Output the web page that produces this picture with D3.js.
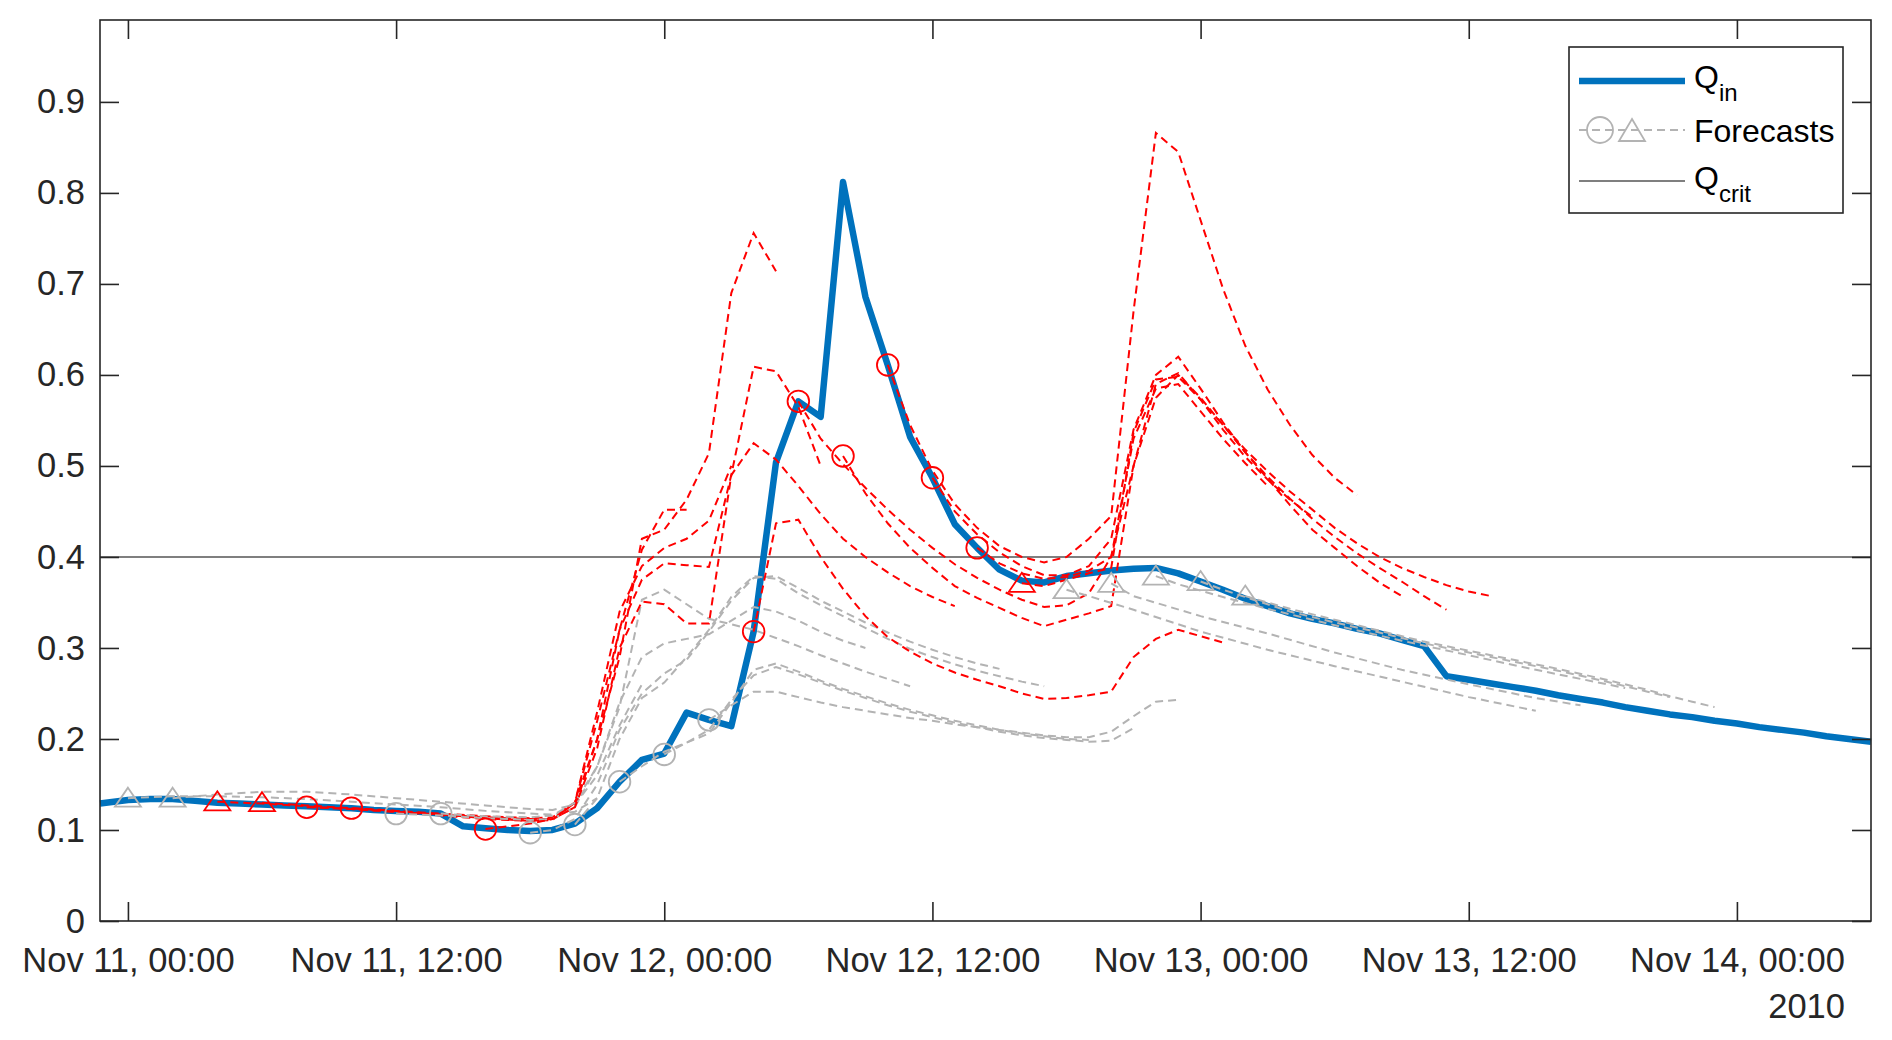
<!DOCTYPE html>
<html>
<head>
<meta charset="utf-8">
<script src="https://cdnjs.cloudflare.com/ajax/libs/d3/7.8.5/d3.min.js"></script>
<style>
body { margin: 0; background: #fff; }
svg { display: block; font-family: "Liberation Sans", Arial, Helvetica, sans-serif; }
</style>
</head>
<body>
<svg width="1892" height="1040"></svg>
<script>
// hours counted from Nov 11 2010, 00:00
var qinStart = -1.25;
var qinValues = [
    0.129, 0.133, 0.134, 0.134, 0.132, 0.130, 0.129, 0.128, 0.127, 0.126,
    0.125, 0.124, 0.122, 0.121, 0.120, 0.118, 0.104, 0.102, 0.100, 0.099,
    0.100, 0.107, 0.124, 0.153, 0.177, 0.184, 0.229, 0.221, 0.214, 0.318,
    0.504, 0.571, 0.554, 0.812, 0.686, 0.611, 0.532, 0.487, 0.436, 0.410,
    0.386, 0.374, 0.372, 0.379, 0.382, 0.385, 0.387, 0.388, 0.382, 0.373,
    0.364, 0.354, 0.346, 0.338, 0.332, 0.327, 0.321, 0.316, 0.309, 0.302,
    0.269, 0.265, 0.261, 0.257, 0.253, 0.248, 0.244, 0.240, 0.235, 0.231,
    0.227, 0.224, 0.220, 0.217, 0.213, 0.210, 0.207, 0.203, 0.200, 0.197
];
var qcrit = 0.4;

var forecastIssue = [0, 2, 4, 6, 8, 10, 12, 14, 16, 18, 20, 22, 24, 26,
                     28, 30, 32, 34, 36, 38, 40, 42, 44, 46, 48, 50];
var forecastColor = ["gray", "gray", "red", "red", "red", "red", "gray", "gray", "red",
                     "gray", "gray", "gray", "gray", "gray", "red", "red", "red", "red",
                     "red", "red", "red", "gray", "gray", "gray", "gray", "gray"];
var forecastMarker = ["tri", "tri", "tri", "tri", "circ", "circ", "circ", "circ", "circ",
                      "circ", "circ", "circ", "circ", "circ", "circ", "circ", "circ", "circ",
                      "circ", "circ", "tri", "tri", "tri", "tri", "tri", "tri"];

// [hour, value] knots of each forecast
var forecastPoints = [
    [[0,.135],[2,.137],[4,.137],[6,.136],[8,.134],[10,.131],[12,.128],[14,.125],[16,.121],[18,.118],[19,.117],[20,.12],[21,.135]],
    [[2,.135],[4,.139],[6,.142],[8,.142],[10,.139],[12,.135],[14,.131],[16,.127],[18,.123],[19,.122],[20,.128],[21,.16],[22,.215],[23,.26]],
    [[4,.131],[6,.129],[8,.126],[10,.123],[12,.12],[14,.117],[16,.114],[18,.112],[19,.112],[20,.125],[21,.2],[22,.32],[23,.408],[24,.452],[25,.452]],
    [[6,.13],[8,.127],[10,.124],[12,.121],[14,.118],[16,.115],[18,.113],[19,.114],[20,.13],[21,.23],[22,.34],[23,.39],[24,.41],[25,.42],[26,.44],[27,.5]],
    [[8,.125],[10,.123],[12,.12],[14,.116],[16,.112],[18,.11],[19,.111],[20,.13],[21,.2],[22,.29],[23,.42],[24,.43],[25,.463],[26,.514],[27,.69],[28,.756],[29,.714]],
    [[10,.124],[12,.121],[14,.117],[16,.113],[18,.11],[19,.112],[20,.13],[21,.22],[22,.32],[23,.375],[24,.393],[25,.391],[26,.389],[27,.49],[28,.609],[29,.604],[30,.565],[31,.5]],
    [[12,.118],[14,.116],[16,.113],[18,.111],[19,.112],[20,.125],[21,.17],[22,.24],[23,.29],[24,.305],[25,.31],[26,.315],[27,.33],[28,.345],[29,.34],[30,.33],[31,.318],[32,.308],[33,.3]],
    [[14,.118],[16,.115],[18,.114],[19,.116],[20,.13],[21,.17],[22,.235],[23,.353],[24,.364],[25,.348],[26,.332],[27,.326],[28,.32],[29,.311],[30,.302],[31,.292],[32,.283],[33,.274],[34,.266],[35,.258]],
    [[16,.101],[17,.104],[18,.107],[19,.112],[20,.125],[21,.19],[22,.3],[23,.351],[24,.348],[25,.327],[26,.327],[27,.49],[28,.525],[29,.507],[30,.478],[31,.447],[32,.42],[33,.4],[34,.383],[35,.368],[36,.356],[37,.346]],
    [[18,.097],[19,.1],[20,.112],[21,.15],[22,.21],[23,.25],[24,.272],[25,.287],[26,.318],[27,.352],[28,.377],[29,.379],[30,.366],[31,.352],[32,.34],[33,.328],[34,.317],[35,.307],[36,.298],[37,.29],[38,.283],[39,.277]],
    [[20,.106],[21,.135],[22,.2],[23,.245],[24,.262],[25,.29],[26,.32],[27,.356],[28,.379],[29,.376],[30,.36],[31,.347],[32,.335],[33,.322],[34,.31],[35,.299],[36,.29],[37,.282],[38,.275],[39,.269],[40,.263],[41,.258]],
    [[22,.153],[23,.17],[24,.186],[25,.196],[26,.206],[27,.24],[28,.276],[29,.283],[30,.274],[31,.264],[32,.255],[33,.247],[34,.239],[35,.232],[36,.226],[37,.22],[38,.215],[39,.21],[40,.206],[41,.203],[42,.2],[43,.199]],
    [[24,.183],[25,.196],[26,.21],[27,.243],[28,.27],[29,.279],[30,.271],[31,.262],[32,.253],[33,.245],[34,.237],[35,.23],[36,.224],[37,.218],[38,.213],[39,.208],[40,.204],[41,.201],[42,.199],[43,.197],[44,.198],[45,.212]],
    [[26,.221],[27,.237],[28,.252],[29,.252],[30,.246],[31,.24],[32,.235],[33,.231],[34,.227],[35,.223],[36,.22],[37,.216],[38,.213],[39,.21],[40,.207],[41,.204],[42,.202],[43,.202],[44,.208],[45,.225],[46,.241],[47,.243]],
    [[28,.318],[29,.437],[30,.441],[31,.4],[32,.365],[33,.335],[34,.312],[35,.296],[36,.283],[37,.273],[38,.265],[39,.258],[40,.25],[41,.244],[42,.245],[43,.248],[44,.252],[45,.29],[46,.31],[47,.32],[48,.313],[49,.306]],
    [[30,.571],[31,.53],[32,.502],[33,.476],[34,.452],[35,.43],[36,.41],[37,.392],[38,.377],[39,.364],[40,.353],[41,.345],[42,.347],[43,.36],[44,.4],[45,.53],[46,.585],[47,.59],[48,.56],[49,.53],[50,.503],[51,.478]],
    [[32,.511],[33,.47],[34,.437],[35,.41],[36,.388],[37,.368],[38,.355],[39,.344],[40,.333],[41,.324],[42,.331],[43,.338],[44,.346],[45,.5],[46,.59],[47,.602],[48,.573],[49,.54],[50,.51],[51,.485],[52,.463],[53,.444]],
    [[34,.611],[35,.545],[36,.495],[37,.458],[38,.432],[39,.412],[40,.4],[41,.394],[42,.4],[43,.42],[44,.445],[45,.67],[46,.866],[47,.845],[48,.77],[49,.695],[50,.632],[51,.584],[52,.545],[53,.512],[54,.487],[55,.468]],
    [[36,.487],[37,.45],[38,.425],[39,.405],[40,.39],[41,.38],[42,.38],[43,.39],[44,.42],[45,.54],[46,.6],[47,.62],[48,.585],[49,.548],[50,.515],[51,.486],[52,.457],[53,.43],[54,.41],[55,.39],[56,.372],[57,.357]],
    [[38,.41],[39,.393],[40,.382],[41,.376],[42,.378],[43,.385],[44,.4],[45,.5],[46,.575],[47,.6],[48,.575],[49,.545],[50,.515],[51,.488],[52,.464],[53,.442],[54,.422],[55,.404],[56,.388],[57,.373],[58,.357],[59,.342]],
    [[40,.371],[41,.368],[42,.375],[43,.382],[44,.388],[45,.537],[46,.595],[47,.598],[48,.573],[49,.545],[50,.518],[51,.494],[52,.472],[53,.452],[54,.432],[55,.415],[56,.4],[57,.388],[58,.378],[59,.369],[60,.362],[61,.357]],
    [[42,.364],[43,.357],[45,.342],[48,.318],[51,.298],[54,.28],[57,.263],[60,.246],[63,.231]],
    [[44,.371],[45,.357],[48,.335],[51,.316],[54,.295],[57,.276],[60,.26],[63,.245],[65,.237]],
    [[46,.379],[47,.37],[49,.356],[51,.343],[54,.325],[57,.308],[60,.292],[63,.276],[65,.266],[67,.256]],
    [[48,.373],[49,.364],[50,.356],[51,.348],[52,.34],[54,.328],[56,.317],[58,.305],[60,.295],[62,.285],[64,.275],[66,.264],[68,.252],[69,.246]],
    [[50,.357],[51,.35],[52,.343],[54,.331],[56,.319],[58,.307],[60,.297],[62,.287],[64,.277],[66,.266],[68,.254],[69,.247],[70,.241],[71,.235]]
];

var xTickHours = [0, 12, 24, 36, 48, 60, 72];
var yTicks = [0, 0.1, 0.2, 0.3, 0.4, 0.5, 0.6, 0.7, 0.8, 0.9];

var colors = { red: "#ff0000", gray: "#b3b3b3", blue: "#0072bd", axis: "#262626" };

var t0 = new Date(2010, 10, 11, 0, 0);
function toDate(h) {
    return new Date(t0.getTime() + h * 3600000);
}

var svg = d3.select("svg");
var plotLeft = 100, plotTop = 20, plotRight = 1871, plotBottom = 921;

var x = d3.scaleTime()
    .domain([toDate(qinStart), toDate(78)])
    .range([plotLeft, plotRight]);
var y = d3.scaleLinear()
    .domain([0, 0.99])
    .range([plotBottom, plotTop]);

var line = d3.line()
    .x(function(d) { return x(toDate(d[0])); })
    .y(function(d) { return y(d[1]); });

// critical flow
svg.append("line")
    .attr("x1", plotLeft).attr("x2", plotRight)
    .attr("y1", y(qcrit)).attr("y2", y(qcrit))
    .attr("stroke", "#555")
    .attr("stroke-width", 1.6);

// observed inflow
var qin = qinValues.map(function(v, i) {
    return [i === 0 ? qinStart : i - 1, v];
});
svg.append("path")
    .datum(qin)
    .attr("d", line)
    .attr("fill", "none")
    .attr("stroke", colors.blue)
    .attr("stroke-width", 6.5)
    .attr("stroke-linejoin", "round");

// forecasts
svg.selectAll(".fc")
    .data(forecastPoints)
    .enter().append("path")
    .attr("class", "fc")
    .attr("d", line)
    .attr("fill", "none")
    .attr("stroke", function(d, i) { return colors[forecastColor[i]]; })
    .attr("stroke-width", 2)
    .attr("stroke-dasharray", "8,5");

function triPath(w, up, down) {
    return "M0," + (-up) + "L" + w + "," + down + "L" + (-w) + "," + down + "Z";
}

var marks = svg.selectAll(".mk")
    .data(forecastPoints)
    .enter().append("g")
    .attr("class", "mk")
    .attr("transform", function(d) {
        return "translate(" + x(toDate(d[0][0])) + "," + y(d[0][1]) + ")";
    });
marks.each(function(d, i) {
    var g = d3.select(this);
    if (forecastMarker[i] === "circ") {
        g.append("circle").attr("r", 10.8);
    } else {
        g.append("path").attr("d", triPath(13, 10.5, 8.5));
    }
    g.selectAll("*")
        .attr("fill", "none")
        .attr("stroke", colors[forecastColor[i]])
        .attr("stroke-width", 1.8);
});

// axes
var fmt = d3.timeFormat("%b %d, %H:%M");
var xTicks = xTickHours.map(toDate);

var gx = svg.append("g")
    .attr("transform", "translate(0," + plotBottom + ")")
    .call(d3.axisBottom(x).tickValues(xTicks).tickFormat(fmt)
        .tickSizeInner(-19).tickSizeOuter(0).tickPadding(27));
var gxTop = svg.append("g")
    .attr("transform", "translate(0," + plotTop + ")")
    .call(d3.axisTop(x).tickValues(xTicks).tickFormat("")
        .tickSizeInner(-19).tickSizeOuter(0));
var gy = svg.append("g")
    .attr("transform", "translate(" + plotLeft + ",0)")
    .call(d3.axisLeft(y).tickValues(yTicks)
        .tickFormat(function(d) { return d === 0 ? "0" : d3.format(".1f")(d); })
        .tickSizeInner(-19).tickSizeOuter(0).tickPadding(15));
var gyRight = svg.append("g")
    .attr("transform", "translate(" + plotRight + ",0)")
    .call(d3.axisRight(y).tickValues(yTicks).tickFormat("")
        .tickSizeInner(-19).tickSizeOuter(0));

[gx, gxTop, gy, gyRight].forEach(function(g) {
    g.select(".domain").remove();
    g.selectAll(".tick line").attr("stroke", colors.axis).attr("stroke-width", 1.6);
    g.selectAll("text")
        .attr("fill", colors.axis)
        .style("font-size", "34.5px")
        .style("font-family", "'Liberation Sans', Arial, Helvetica, sans-serif");
});

svg.append("rect")
    .attr("x", plotLeft).attr("y", plotTop)
    .attr("width", plotRight - plotLeft).attr("height", plotBottom - plotTop)
    .attr("fill", "none")
    .attr("stroke", colors.axis)
    .attr("stroke-width", 1.6);

svg.append("text")
    .attr("x", 1845).attr("y", 1018)
    .attr("text-anchor", "end")
    .attr("fill", colors.axis)
    .style("font-size", "34.5px")
    .text("2010");

// legend
var legend = svg.append("g");
legend.append("rect")
    .attr("x", 1569).attr("y", 47)
    .attr("width", 274).attr("height", 166)
    .attr("fill", "#fff")
    .attr("stroke", colors.axis)
    .attr("stroke-width", 1.6);

legend.append("line")
    .attr("x1", 1579).attr("x2", 1685).attr("y1", 81).attr("y2", 81)
    .attr("stroke", colors.blue).attr("stroke-width", 6.5);
legend.append("line")
    .attr("x1", 1579).attr("x2", 1685).attr("y1", 130).attr("y2", 130)
    .attr("stroke", colors.gray).attr("stroke-width", 2)
    .attr("stroke-dasharray", "8,5");
legend.append("circle")
    .attr("cx", 1600).attr("cy", 130).attr("r", 13)
    .attr("fill", "none").attr("stroke", colors.gray).attr("stroke-width", 1.8);
legend.append("path")
    .attr("transform", "translate(1632,131)")
    .attr("d", triPath(13, 12, 10))
    .attr("fill", "none").attr("stroke", colors.gray).attr("stroke-width", 1.8);
legend.append("line")
    .attr("x1", 1579).attr("x2", 1685).attr("y1", 181).attr("y2", 181)
    .attr("stroke", "#555").attr("stroke-width", 1.6);

function legendLabel(yPos, main, sub) {
    var t = legend.append("text")
        .attr("x", 1694).attr("y", yPos)
        .attr("fill", "#000")
        .style("font-size", "32px");
    t.append("tspan").text(main);
    if (sub) {
        t.append("tspan").attr("dy", 13).style("font-size", "24px").text(sub);
    }
}
legendLabel(88, "Q", "in");
legendLabel(142, "Forecasts");
legendLabel(189, "Q", "crit");
</script>
</body>
</html>
